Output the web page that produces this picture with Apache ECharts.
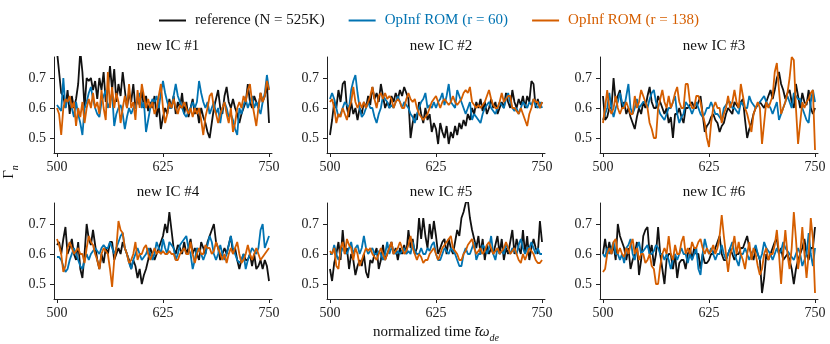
<!DOCTYPE html>
<html>
<head>
<meta charset="utf-8">
<script src="https://cdn.jsdelivr.net/npm/echarts@6/dist/echarts.min.js"></script>
<style>
  html, body { margin: 0; padding: 0; background: #fff; }
  #chart { width: 830px; height: 344px; }
</style>
</head>
<body>
<div id="chart"></div>
<script>
// time window of every panel, samples are evenly spaced in it
var tStart = 500, tEnd = 750;
var xTicks = [500, 625, 750];
var yTicks = [0.5, 0.6, 0.7];
var panelTitles = ['new IC #1', 'new IC #2', 'new IC #3', 'new IC #4', 'new IC #5', 'new IC #6'];
var seriesNames = ['reference (N = 525K)', 'OpInf ROM (r = 60)', 'OpInf ROM (r = 138)'];

// IC #1
var refIC1 = [0.79,0.72,0.65,0.64,0.60,0.66,0.58,0.64,0.60,0.63,
  0.68,0.79,0.72,0.60,0.70,0.69,0.70,0.66,0.69,0.63,
  0.70,0.66,0.72,0.62,0.66,0.74,0.66,0.73,0.62,0.68,
  0.64,0.72,0.66,0.60,0.65,0.62,0.68,0.60,0.63,0.61,
  0.66,0.60,0.64,0.59,0.62,0.60,0.64,0.57,0.61,0.53,
  0.57,0.60,0.58,0.63,0.60,0.64,0.58,0.62,0.60,0.65,
  0.58,0.62,0.57,0.60,0.63,0.58,0.60,0.55,0.60,0.57,
  0.55,0.52,0.50,0.55,0.60,0.63,0.66,0.60,0.58,0.64,
  0.67,0.62,0.60,0.63,0.60,0.58,0.55,0.58,0.60,0.62,
  0.68,0.62,0.60,0.64,0.62,0.60,0.65,0.62,0.64,0.68,
  0.55];
var r60IC1 = [0.61,0.60,0.59,0.70,0.60,0.63,0.62,0.60,0.57,0.62,
  0.58,0.55,0.51,0.60,0.62,0.65,0.67,0.63,0.60,0.58,
  0.57,0.62,0.64,0.66,0.60,0.62,0.65,0.54,0.58,0.60,
  0.61,0.58,0.53,0.57,0.60,0.58,0.60,0.60,0.63,0.65,
  0.60,0.62,0.52,0.56,0.60,0.63,0.62,0.64,0.60,0.65,
  0.69,0.65,0.62,0.60,0.60,0.64,0.68,0.64,0.62,0.60,
  0.58,0.57,0.59,0.60,0.62,0.60,0.62,0.69,0.65,0.62,
  0.60,0.62,0.58,0.60,0.62,0.58,0.60,0.55,0.60,0.62,
  0.60,0.57,0.58,0.56,0.53,0.51,0.60,0.58,0.61,0.63,
  0.60,0.62,0.64,0.60,0.62,0.60,0.58,0.62,0.65,0.71,
  0.66];
var r138IC1 = [0.60,0.58,0.51,0.60,0.63,0.62,0.64,0.60,0.62,0.54,
  0.60,0.57,0.62,0.55,0.60,0.63,0.60,0.65,0.60,0.62,
  0.58,0.66,0.60,0.56,0.72,0.60,0.67,0.60,0.65,0.62,
  0.55,0.60,0.64,0.60,0.68,0.60,0.62,0.56,0.66,0.60,
  0.68,0.64,0.60,0.63,0.60,0.62,0.58,0.60,0.64,0.68,
  0.60,0.55,0.58,0.62,0.60,0.63,0.60,0.58,0.61,0.60,
  0.62,0.60,0.58,0.60,0.57,0.60,0.58,0.60,0.56,0.51,
  0.57,0.60,0.64,0.65,0.60,0.58,0.55,0.58,0.60,0.62,
  0.58,0.55,0.60,0.52,0.55,0.60,0.62,0.60,0.64,0.62,
  0.66,0.68,0.62,0.58,0.54,0.60,0.65,0.62,0.64,0.69,
  0.66];

// IC #2
var refIC2 = [0.51,0.56,0.62,0.60,0.66,0.62,0.68,0.69,0.60,0.57,
  0.62,0.58,0.60,0.56,0.60,0.58,0.62,0.60,0.64,0.61,
  0.67,0.63,0.65,0.62,0.68,0.64,0.60,0.62,0.60,0.64,
  0.62,0.65,0.63,0.66,0.64,0.67,0.65,0.63,0.50,0.55,
  0.58,0.56,0.62,0.58,0.55,0.60,0.56,0.58,0.52,0.55,
  0.53,0.48,0.55,0.52,0.50,0.54,0.48,0.52,0.50,0.54,
  0.51,0.55,0.53,0.56,0.54,0.58,0.56,0.60,0.58,0.62,
  0.60,0.63,0.59,0.62,0.58,0.60,0.63,0.60,0.62,0.58,
  0.60,0.62,0.60,0.65,0.62,0.60,0.66,0.62,0.60,0.63,
  0.61,0.64,0.60,0.64,0.62,0.69,0.68,0.60,0.63,0.60,
  0.62];
var r60IC2 = [0.63,0.65,0.63,0.60,0.57,0.58,0.60,0.62,0.61,0.60,
  0.66,0.69,0.71,0.65,0.60,0.57,0.58,0.60,0.62,0.60,
  0.60,0.57,0.55,0.58,0.60,0.64,0.63,0.62,0.60,0.61,
  0.60,0.62,0.64,0.62,0.60,0.62,0.61,0.60,0.58,0.57,
  0.55,0.58,0.60,0.62,0.63,0.65,0.60,0.61,0.60,0.62,
  0.60,0.62,0.63,0.65,0.61,0.64,0.68,0.62,0.61,0.60,
  0.66,0.64,0.62,0.60,0.58,0.60,0.62,0.56,0.58,0.57,
  0.56,0.55,0.58,0.60,0.61,0.62,0.60,0.59,0.58,0.60,
  0.62,0.61,0.60,0.63,0.65,0.62,0.60,0.59,0.60,0.58,
  0.60,0.62,0.61,0.60,0.62,0.61,0.63,0.61,0.60,0.62,
  0.60];
var r138IC2 = [0.62,0.63,0.60,0.55,0.58,0.57,0.60,0.58,0.56,0.60,
  0.62,0.67,0.62,0.60,0.62,0.60,0.62,0.60,0.62,0.64,
  0.67,0.63,0.60,0.64,0.65,0.63,0.65,0.63,0.64,0.63,
  0.60,0.62,0.63,0.62,0.60,0.60,0.63,0.65,0.63,0.62,
  0.63,0.60,0.58,0.57,0.56,0.57,0.58,0.60,0.62,0.63,
  0.64,0.62,0.60,0.62,0.63,0.62,0.61,0.62,0.64,0.62,
  0.61,0.62,0.63,0.65,0.66,0.65,0.67,0.62,0.61,0.60,
  0.61,0.60,0.61,0.62,0.64,0.66,0.63,0.61,0.60,0.60,
  0.62,0.65,0.62,0.63,0.64,0.64,0.60,0.60,0.59,0.58,
  0.60,0.58,0.56,0.54,0.58,0.60,0.63,0.62,0.62,0.60,
  0.62];

// IC #3
var refIC3 = [0.64,0.56,0.57,0.60,0.60,0.70,0.62,0.64,0.66,0.60,
  0.62,0.58,0.60,0.57,0.55,0.53,0.57,0.60,0.58,0.62,
  0.60,0.64,0.67,0.62,0.60,0.60,0.64,0.62,0.60,0.58,
  0.60,0.55,0.57,0.50,0.58,0.58,0.60,0.57,0.55,0.60,
  0.60,0.61,0.62,0.60,0.60,0.62,0.64,0.58,0.52,0.54,
  0.55,0.57,0.58,0.56,0.55,0.52,0.54,0.55,0.58,0.60,
  0.59,0.58,0.62,0.61,0.60,0.62,0.63,0.56,0.50,0.53,
  0.55,0.58,0.60,0.61,0.62,0.61,0.60,0.62,0.64,0.66,
  0.63,0.66,0.70,0.72,0.68,0.66,0.63,0.65,0.66,0.62,
  0.60,0.68,0.64,0.60,0.65,0.62,0.61,0.66,0.60,0.58,
  0.60];
var r60IC3 = [0.56,0.58,0.60,0.65,0.60,0.57,0.60,0.62,0.65,0.62,
  0.60,0.64,0.68,0.60,0.58,0.60,0.63,0.60,0.61,0.62,
  0.62,0.60,0.63,0.65,0.66,0.62,0.60,0.58,0.57,0.56,
  0.58,0.60,0.60,0.62,0.64,0.58,0.55,0.57,0.58,0.62,
  0.61,0.60,0.58,0.60,0.62,0.60,0.58,0.57,0.58,0.60,
  0.60,0.62,0.60,0.58,0.58,0.57,0.56,0.60,0.61,0.62,
  0.62,0.60,0.60,0.59,0.58,0.62,0.61,0.60,0.60,0.64,
  0.62,0.61,0.60,0.61,0.62,0.63,0.64,0.62,0.61,0.60,
  0.58,0.60,0.62,0.56,0.58,0.60,0.62,0.64,0.62,0.60,
  0.65,0.64,0.63,0.63,0.60,0.58,0.56,0.55,0.62,0.66,
  0.62];
var r138IC3 = [0.55,0.60,0.66,0.60,0.58,0.60,0.64,0.60,0.58,0.60,
  0.60,0.62,0.60,0.58,0.58,0.64,0.60,0.62,0.66,0.64,
  0.62,0.60,0.55,0.53,0.50,0.50,0.60,0.63,0.66,0.62,
  0.60,0.64,0.60,0.62,0.65,0.67,0.62,0.60,0.60,0.68,
  0.68,0.62,0.60,0.60,0.64,0.64,0.62,0.58,0.55,0.50,
  0.47,0.55,0.60,0.62,0.60,0.60,0.55,0.58,0.60,0.64,
  0.60,0.62,0.66,0.62,0.60,0.68,0.64,0.60,0.58,0.55,
  0.52,0.58,0.60,0.62,0.60,0.48,0.55,0.62,0.60,0.62,
  0.64,0.72,0.75,0.66,0.58,0.60,0.62,0.65,0.70,0.77,
  0.76,0.60,0.48,0.55,0.62,0.60,0.62,0.63,0.65,0.66,
  0.46];

// IC #4
var refIC4 = [0.63,0.64,0.60,0.65,0.69,0.60,0.62,0.65,0.60,0.58,
  0.64,0.55,0.52,0.60,0.70,0.65,0.63,0.68,0.63,0.58,
  0.55,0.60,0.57,0.62,0.60,0.64,0.64,0.58,0.60,0.62,
  0.60,0.64,0.62,0.60,0.58,0.55,0.58,0.56,0.52,0.55,
  0.50,0.53,0.55,0.58,0.62,0.60,0.58,0.60,0.62,0.64,
  0.66,0.70,0.67,0.74,0.68,0.62,0.60,0.63,0.62,0.60,
  0.64,0.60,0.62,0.65,0.60,0.62,0.60,0.58,0.64,0.62,
  0.60,0.64,0.66,0.68,0.70,0.64,0.62,0.58,0.60,0.62,
  0.60,0.63,0.66,0.60,0.62,0.58,0.55,0.58,0.60,0.58,
  0.58,0.60,0.56,0.60,0.55,0.56,0.58,0.55,0.58,0.56,
  0.51];
var r60IC4 = [0.59,0.59,0.58,0.56,0.54,0.55,0.58,0.60,0.62,0.60,
  0.58,0.56,0.55,0.58,0.60,0.58,0.60,0.61,0.62,0.61,
  0.60,0.62,0.63,0.62,0.62,0.64,0.62,0.60,0.62,0.64,
  0.66,0.67,0.62,0.60,0.57,0.55,0.58,0.60,0.62,0.60,
  0.58,0.59,0.60,0.62,0.60,0.58,0.60,0.64,0.62,0.60,
  0.65,0.62,0.60,0.64,0.63,0.62,0.58,0.60,0.63,0.64,
  0.65,0.66,0.62,0.60,0.55,0.58,0.62,0.61,0.60,0.58,
  0.60,0.63,0.66,0.64,0.60,0.58,0.60,0.63,0.60,0.58,
  0.60,0.63,0.66,0.62,0.60,0.58,0.57,0.58,0.60,0.55,
  0.58,0.60,0.62,0.61,0.60,0.62,0.68,0.70,0.62,0.64,
  0.66];
var r138IC4 = [0.65,0.63,0.60,0.54,0.56,0.62,0.64,0.62,0.60,0.61,
  0.62,0.60,0.60,0.57,0.62,0.66,0.64,0.63,0.60,0.58,
  0.55,0.60,0.62,0.61,0.60,0.55,0.49,0.58,0.62,0.71,
  0.68,0.67,0.62,0.60,0.57,0.58,0.60,0.64,0.58,0.60,
  0.60,0.62,0.63,0.60,0.58,0.60,0.62,0.60,0.61,0.60,
  0.61,0.60,0.60,0.61,0.60,0.60,0.58,0.58,0.60,0.61,
  0.62,0.60,0.60,0.64,0.60,0.57,0.60,0.62,0.60,0.60,
  0.63,0.62,0.62,0.60,0.61,0.64,0.62,0.60,0.58,0.60,
  0.57,0.60,0.62,0.60,0.62,0.64,0.60,0.57,0.58,0.60,
  0.63,0.60,0.58,0.60,0.62,0.60,0.58,0.59,0.60,0.61,
  0.62];

// IC #5
var refIC5 = [0.55,0.51,0.57,0.60,0.64,0.58,0.68,0.60,0.62,0.55,
  0.60,0.58,0.53,0.56,0.58,0.56,0.60,0.54,0.52,0.58,
  0.57,0.60,0.62,0.55,0.58,0.63,0.58,0.60,0.62,0.64,
  0.60,0.62,0.58,0.62,0.60,0.63,0.60,0.68,0.62,0.65,
  0.60,0.62,0.72,0.65,0.72,0.66,0.62,0.70,0.65,0.71,
  0.66,0.60,0.62,0.64,0.65,0.60,0.65,0.62,0.60,0.64,
  0.68,0.66,0.72,0.74,0.77,0.78,0.72,0.68,0.65,0.62,
  0.66,0.60,0.65,0.58,0.63,0.60,0.62,0.60,0.63,0.66,
  0.60,0.65,0.58,0.62,0.60,0.64,0.68,0.60,0.65,0.62,
  0.60,0.68,0.60,0.66,0.58,0.62,0.65,0.62,0.60,0.71,
  0.64];
var r60IC5 = [0.60,0.60,0.63,0.60,0.58,0.60,0.62,0.61,0.60,0.62,
  0.64,0.60,0.62,0.63,0.60,0.62,0.66,0.62,0.60,0.61,
  0.62,0.60,0.60,0.61,0.60,0.58,0.60,0.64,0.60,0.62,
  0.61,0.60,0.61,0.60,0.61,0.62,0.60,0.61,0.60,0.64,
  0.61,0.60,0.60,0.62,0.60,0.60,0.62,0.61,0.63,0.64,
  0.60,0.58,0.58,0.60,0.62,0.61,0.60,0.62,0.61,0.60,
  0.58,0.56,0.56,0.60,0.62,0.60,0.60,0.62,0.64,0.58,
  0.60,0.60,0.63,0.62,0.60,0.62,0.66,0.60,0.58,0.62,
  0.60,0.61,0.60,0.63,0.62,0.60,0.62,0.61,0.60,0.63,
  0.65,0.62,0.60,0.62,0.62,0.64,0.62,0.60,0.62,0.60,
  0.60];
var r138IC5 = [0.61,0.60,0.62,0.56,0.55,0.62,0.64,0.60,0.65,0.63,
  0.62,0.58,0.62,0.60,0.56,0.58,0.60,0.62,0.61,0.62,
  0.60,0.59,0.58,0.60,0.62,0.60,0.58,0.60,0.62,0.64,
  0.60,0.61,0.62,0.64,0.62,0.60,0.61,0.63,0.66,0.62,
  0.60,0.58,0.60,0.59,0.57,0.58,0.58,0.60,0.61,0.62,
  0.60,0.58,0.60,0.62,0.63,0.64,0.65,0.66,0.62,0.61,
  0.60,0.58,0.58,0.60,0.61,0.63,0.64,0.65,0.62,0.60,
  0.61,0.62,0.60,0.61,0.63,0.64,0.62,0.60,0.61,0.62,
  0.60,0.61,0.62,0.64,0.62,0.60,0.61,0.62,0.60,0.58,
  0.57,0.60,0.58,0.60,0.62,0.61,0.60,0.58,0.57,0.57,
  0.58];

// IC #6
var refIC6 = [0.60,0.65,0.60,0.64,0.60,0.63,0.58,0.70,0.66,0.64,
  0.62,0.58,0.62,0.55,0.58,0.60,0.64,0.53,0.58,0.66,
  0.68,0.69,0.60,0.63,0.56,0.60,0.69,0.60,0.55,0.50,
  0.58,0.60,0.60,0.55,0.60,0.52,0.57,0.58,0.58,0.55,
  0.60,0.62,0.58,0.62,0.60,0.60,0.55,0.60,0.57,0.57,
  0.58,0.60,0.60,0.62,0.64,0.66,0.60,0.58,0.58,0.60,
  0.62,0.60,0.58,0.60,0.60,0.62,0.62,0.64,0.66,0.62,
  0.60,0.58,0.62,0.60,0.58,0.47,0.52,0.60,0.58,0.60,
  0.62,0.64,0.65,0.60,0.62,0.58,0.59,0.60,0.58,0.55,
  0.50,0.55,0.58,0.60,0.62,0.65,0.60,0.58,0.62,0.62,
  0.69];
var r60IC6 = [0.60,0.59,0.62,0.60,0.62,0.64,0.60,0.60,0.58,0.60,
  0.57,0.62,0.63,0.65,0.60,0.58,0.62,0.64,0.60,0.61,
  0.62,0.63,0.60,0.60,0.61,0.63,0.62,0.60,0.60,0.58,
  0.60,0.58,0.55,0.58,0.60,0.58,0.60,0.62,0.60,0.60,
  0.57,0.60,0.58,0.60,0.62,0.55,0.53,0.60,0.65,0.62,
  0.60,0.62,0.60,0.58,0.60,0.60,0.63,0.60,0.58,0.60,
  0.62,0.64,0.60,0.58,0.56,0.60,0.60,0.62,0.60,0.58,
  0.60,0.61,0.63,0.60,0.58,0.60,0.64,0.62,0.61,0.60,
  0.58,0.60,0.62,0.60,0.61,0.64,0.62,0.61,0.60,0.59,
  0.58,0.60,0.62,0.60,0.56,0.58,0.60,0.67,0.60,0.56,
  0.62];
var r138IC6 = [0.54,0.55,0.60,0.62,0.60,0.64,0.65,0.60,0.62,0.60,
  0.59,0.62,0.60,0.63,0.65,0.60,0.62,0.58,0.60,0.60,
  0.57,0.58,0.60,0.56,0.55,0.50,0.50,0.56,0.60,0.62,
  0.60,0.66,0.60,0.58,0.63,0.60,0.60,0.64,0.66,0.60,
  0.62,0.60,0.64,0.62,0.62,0.64,0.65,0.62,0.60,0.62,
  0.60,0.61,0.63,0.60,0.62,0.66,0.73,0.66,0.60,0.54,
  0.60,0.62,0.66,0.60,0.64,0.60,0.58,0.55,0.60,0.64,
  0.58,0.62,0.60,0.56,0.53,0.55,0.60,0.62,0.58,0.60,
  0.60,0.63,0.68,0.60,0.50,0.60,0.68,0.60,0.55,0.62,
  0.74,0.65,0.55,0.60,0.69,0.60,0.52,0.60,0.72,0.65,
  0.47];

var panels = [
  [refIC1, r60IC1, r138IC1],
  [refIC2, r60IC2, r138IC2],
  [refIC3, r60IC3, r138IC3],
  [refIC4, r60IC4, r138IC4],
  [refIC5, r60IC5, r138IC5],
  [refIC6, r60IC6, r138IC6]
];

var colors = ['#111111', '#0173b2', '#d55e00'];
var serif = '"Liberation Serif", "DejaVu Serif", serif';
var gridLefts = [54, 327, 600];
var gridTops = [57, 203];
var gridW = 218, gridH = 96;

// pair each value with its sample time
function toPairs(vals) {
  var step = (tEnd - tStart) / (vals.length - 1);
  return vals.map(function (v, i) { return [tStart + i * step, v]; });
}

var grids = [], xAxes = [], yAxes = [], titles = [], series = [];
for (var k = 0; k < 6; k++) {
  var col = k % 3, row = Math.floor(k / 3);
  grids.push({ left: gridLefts[col], top: gridTops[row], width: gridW, height: gridH });
  xAxes.push({
    type: 'value', gridIndex: k, min: 496.5, max: 753.5,
    splitLine: { show: false },
    axisLine: { onZero: false, lineStyle: { color: '#222', width: 1 } },
    axisTick: { length: 4, customValues: xTicks, lineStyle: { color: '#222' } },
    axisLabel: { customValues: xTicks, color: '#222', fontFamily: serif, fontSize: 14, margin: 7 }
  });
  yAxes.push({
    type: 'value', gridIndex: k, min: 0.45, max: 0.77,
    splitLine: { show: false },
    axisLine: { show: true, onZero: false, lineStyle: { color: '#222', width: 1 } },
    axisTick: { show: true, length: 4, customValues: yTicks, lineStyle: { color: '#222' } },
    axisLabel: {
      customValues: yTicks, color: '#222', fontFamily: serif, fontSize: 14, margin: 8,
      formatter: function (v) { return v.toFixed(1); }
    }
  });
  titles.push({
    text: panelTitles[k], left: gridLefts[col] + gridW / 2, top: gridTops[row] - 23,
    textAlign: 'center',
    textStyle: { fontFamily: serif, fontSize: 15, fontWeight: 'normal', color: '#111' }
  });
  for (var s = 0; s < 3; s++) {
    series.push({
      name: seriesNames[s], type: 'line', xAxisIndex: k, yAxisIndex: k,
      data: toPairs(panels[k][s]),
      symbol: 'none', showSymbol: false, z: 2 + s,
      lineStyle: { color: colors[s], width: 1.8 },
      itemStyle: { color: colors[s] }
    });
  }
}

var chart = echarts.init(document.getElementById('chart'), null, { renderer: 'canvas' });
chart.setOption({
  backgroundColor: '#fff',
  animation: false,
  color: colors,
  title: titles,
  legend: {
    left: 154, top: 8, icon: 'rect', itemWidth: 27, itemHeight: 2, itemGap: 24,
    textStyle: { fontFamily: serif, fontSize: 15, padding: [0, 0, 0, 4] },
    data: [
      { name: seriesNames[0], textStyle: { color: '#111' } },
      { name: seriesNames[1], textStyle: { color: colors[1] } },
      { name: seriesNames[2], textStyle: { color: colors[2] } }
    ]
  },
  grid: grids,
  xAxis: xAxes,
  yAxis: yAxes,
  series: series,
  graphic: [
    {
      type: 'text', x: 10, y: 172, rotation: Math.PI / 2,
      style: {
        text: '{g|Γ}{s|n}', align: 'center', verticalAlign: 'middle',
        rich: {
          g: { fontFamily: serif, fontSize: 15, fill: '#111', verticalAlign: 'top', lineHeight: 16 },
          s: { fontFamily: serif, fontSize: 10, fontStyle: 'italic', fill: '#111', verticalAlign: 'top', lineHeight: 10, padding: [8, 0, 0, 0] }
        }
      }
    },
    {
      type: 'text', x: 436, y: 333,
      style: {
        text: '{a|normalized time }{i|t\u0304ω}{s|de}', align: 'center', verticalAlign: 'middle',
        rich: {
          a: { fontFamily: serif, fontSize: 15, fill: '#111', verticalAlign: 'top', lineHeight: 16 },
          i: { fontFamily: serif, fontSize: 15, fontStyle: 'italic', fill: '#111', verticalAlign: 'top', lineHeight: 16 },
          s: { fontFamily: serif, fontSize: 10, fontStyle: 'italic', fill: '#111', verticalAlign: 'top', lineHeight: 10, padding: [8, 0, 0, 0] }
        }
      }
    }
  ]
});
</script>
</body>
</html>
